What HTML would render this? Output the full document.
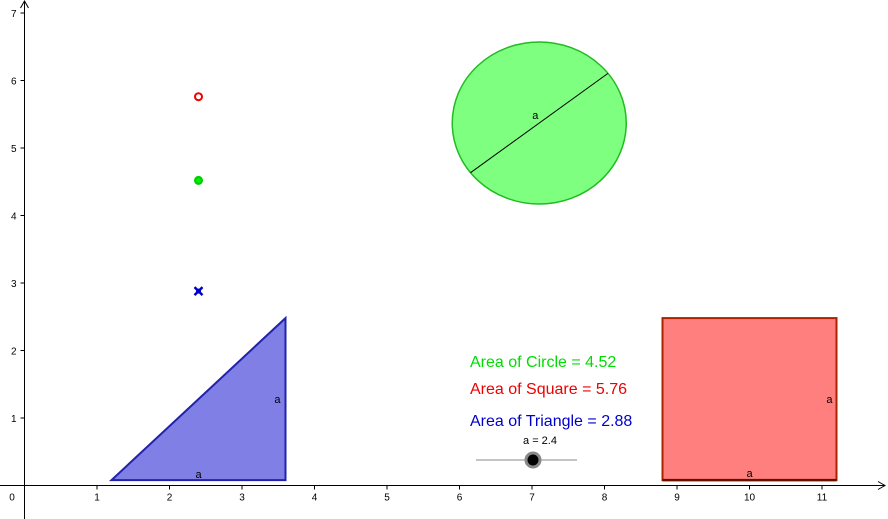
<!DOCTYPE html>
<html><head><meta charset="utf-8"><style>
body{margin:0;background:#fff}
svg{display:block;font-family:"Liberation Sans",sans-serif}
</style></head><body>
<svg id="c" width="888" height="519"></svg>
<script>
const xTicks=[1,2,3,4,5,6,7,8,9,10,11];
const yTicks=[1,2,3,4,5,6,7];
const aValue=[2.4];
const areaLabels=["Area of Circle = 4.52","Area of Square  = 5.76","Area of  Triangle = 2.88"];
const pointYs=[5.76,4.52,2.88];
const ox=24.5, oy=485.5, ux=72.5, uy=67.5;
const X=v=>ox+v*ux, Y=v=>oy-v*uy;
const NS="http://www.w3.org/2000/svg", svg=document.getElementById('c');
function mk(t,at,txt){const e=document.createElementNS(NS,t);for(const k in at)e.setAttribute(k,at[k]);if(txt!==undefined)e.textContent=txt;svg.appendChild(e);return e;}
const a=aValue[0];
// axes
let e=mk('line',{x1:0,y1:oy,x2:884,y2:oy,stroke:'#000'});


e=mk('path',{d:`M878 ${oy-4}L885 ${oy}L878 ${oy+4}`,fill:'none',stroke:'#000'});


e=mk('line',{x1:ox,y1:519,x2:ox,y2:2,stroke:'#000'});


e=mk('path',{d:`M${ox-4} 8L${ox} 1L${ox+4} 8`,fill:'none',stroke:'#000'});


xTicks.forEach(v=>{
 mk('line',{x1:X(v),y1:oy,x2:X(v),y2:oy+4,stroke:'#000'});
 e=mk('text',{x:X(v),y:oy+15,'font-size':10,'text-anchor':'middle'},v);
 
 
});
yTicks.forEach(v=>{
 mk('line',{x1:ox-4,y1:Y(v),x2:ox,y2:Y(v),stroke:'#000'});
 e=mk('text',{x:ox-8,y:Y(v)+4,'font-size':10,'text-anchor':'end'},v);
 
 
});
e=mk('text',{x:12,y:oy+15,'font-size':10,'text-anchor':'middle'},'0');


// triangle
const b=0.08, tx=1.2;
e=mk('polygon',{points:`${X(tx)},${Y(b)} ${X(tx+a)},${Y(b)} ${X(tx+a)},${Y(b+a)}`,fill:'rgba(0,0,204,0.5)',stroke:'#2222aa','stroke-width':2});


mk('text',{x:X(tx+a/2),y:Y(b)-2,'font-size':11,'text-anchor':'middle'},'a');
mk('text',{x:X(tx+a)-5,y:Y(b+a/2)+4,'font-size':11,'text-anchor':'end'},'a');
// square
const sx=8.8;
e=mk('rect',{x:X(sx),y:Y(b+a),width:a*ux,height:a*uy,fill:'rgba(255,0,0,0.5)',stroke:'#aa2200','stroke-width':2});


mk('line',{x1:X(sx),y1:Y(b),x2:X(sx+a),y2:Y(b),stroke:'#661100','stroke-width':2.5});
mk('text',{x:X(sx+a/2),y:Y(b)-3,'font-size':11,'text-anchor':'middle'},'a');
mk('text',{x:X(sx+a)-4,y:Y(b+a/2)+4,'font-size':11,'text-anchor':'end'},'a');
// circle
const cx=7.1, cy=5.37;
e=mk('ellipse',{cx:X(cx),cy:Y(cy),rx:a/2*ux,ry:a/2*uy,fill:'rgba(0,255,0,0.5)',stroke:'#22bb22','stroke-width':1.5});


const ang=0.66;
e=mk('line',{x1:X(cx-a/2*Math.cos(ang)),y1:Y(cy-a/2*Math.sin(ang)),x2:X(cx+a/2*Math.cos(ang)),y2:Y(cy+a/2*Math.sin(ang)),stroke:'#000'});


mk('text',{x:X(cx)-4,y:Y(cy)-4,'font-size':11,'text-anchor':'middle'},'a');
// points
e=mk('circle',{cx:X(a),cy:Y(pointYs[1]),r:3.5,fill:'#00ee00',stroke:'#00cc00','stroke-width':2});


e=mk('circle',{cx:X(a),cy:Y(pointYs[0]),r:3.5,fill:'#fff',stroke:'#ee0000','stroke-width':2});


const px=X(a), py=Y(pointYs[2]);
e=mk('path',{d:`M${px-4} ${py-4}L${px+4} ${py+4}M${px-4} ${py+4}L${px+4} ${py-4}`,stroke:'#0000cc','stroke-width':2.5});


mk('circle',{cx:px,cy:py,r:2.5,fill:'#0000cc'});
// labels
const cols=['#00dd00','#ee0000','#0000cc'];
const order=[0,1,2], ly=[367,394,426];
order.forEach(i=>{
 e=mk('text',{x:470,y:ly[i],'font-size':16,fill:cols[i]},areaLabels[i]);
 
 
});
// slider
e=mk('line',{x1:476,y1:460,x2:577,y2:460,stroke:'#888'});


const sk=476+(a-0)/(5.6)*176; // approx knob mapping
e=mk('circle',{cx:533,cy:460,r:7,fill:'#000',stroke:'#888','stroke-width':3});


e=mk('text',{x:540,y:444,'font-size':11,'text-anchor':'middle'},'a = '+a);


</script>
</body></html>
